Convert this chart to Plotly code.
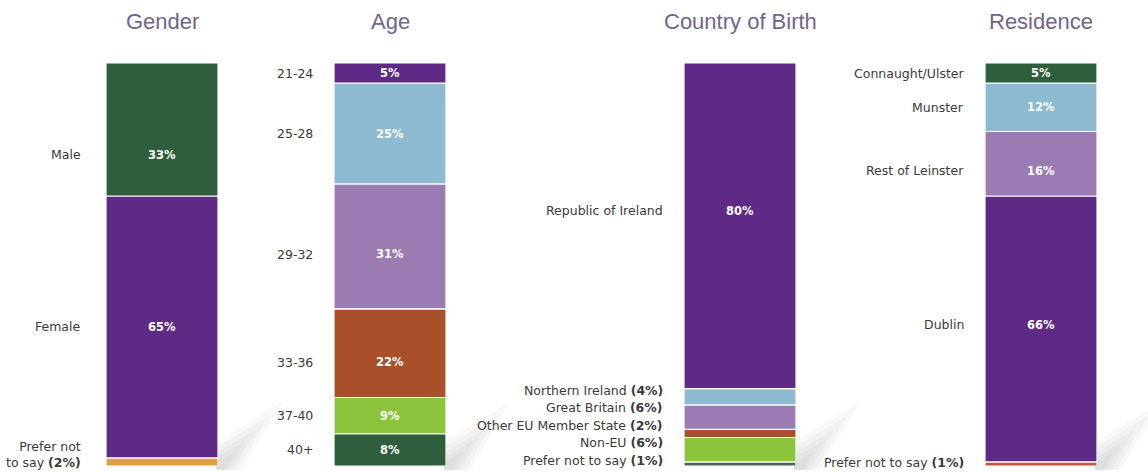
import plotly.graph_objects as go

# ---- data -------------------------------------------------------------
gender_labels = ["Prefer not to say", "Female", "Male"]
gender_values = [2, 65, 33]

age_labels = ["40+", "37-40", "33-36", "29-32", "25-28", "21-24"]
age_values = [8, 9, 22, 31, 25, 5]

birth_labels = ["Prefer not to say", "Non-EU", "Other EU Member State",
                "Great Britain", "Northern Ireland", "Republic of Ireland"]
birth_values = [1, 6, 2, 6, 4, 80]

residence_labels = ["Prefer not to say", "Dublin", "Rest of Leinster",
                    "Munster", "Connaught/Ulster"]
residence_values = [1, 66, 16, 12, 5]

titles = ["Gender", "Age", "Country of Birth", "Residence"]

# ---- styling -----------------------------------------------------------
W, H = 1148, 472
DARK_GREEN = "#2e5e3b"
PURPLE = "#5f2a85"
ORANGE = "#dea145"
LIGHT_BLUE = "#8db9d1"
LAVENDER = "#9a7cb2"
RUST = "#a9502b"
LIME = "#8dc43d"
SLATE = "#4d6461"
RED = "#c2553c"

gender_colors = [ORANGE, PURPLE, DARK_GREEN]
age_colors = [DARK_GREEN, LIME, RUST, LAVENDER, LIGHT_BLUE, PURPLE]
birth_colors = [SLATE, LIME, RUST, LAVENDER, LIGHT_BLUE, PURPLE]
residence_colors = [RED, PURPLE, LAVENDER, LIGHT_BLUE, DARK_GREEN]

LABEL_FONT = dict(family="DejaVu Sans", size=12.5, color="#3a3a3a")
PCT_FONT = dict(family="DejaVu Sans", size=11.5, color="white")
TITLE_FONT = dict(family="Liberation Sans", size=22, color="#72648a")

# pixel placement of each column (left edge of bar, bar width, label gap)
bar_left = [106, 334, 684, 985]
label_gap = [23, 19, 19, 19]
bar_w = 112
plot_top, plot_bottom = 63, 466

# hand-tuned vertical nudges (px, + moves down) for a few labels
label_nudge = {"Male": 25, "29-32": 8, "33-36": 9, "Rest of Leinster": 7,
               "Dublin": -4, "Republic of Ireland": -15}

# minimum share that gets an in-bar percentage
min_pct_shown = [5, 5, 10, 5]

columns = [
    (gender_labels, gender_values, gender_colors),
    (age_labels, age_values, age_colors),
    (birth_labels, birth_values, birth_colors),
    (residence_labels, residence_values, residence_colors),
]

fig = go.Figure()
layout_axes = {}
annotations = []
shapes = []

ydom = [(H - plot_bottom) / H, (H - plot_top) / H]


def px(x, y):
    """pixel position -> paper coordinates string"""
    return f"{x / W},{(H - y) / H}"


for i, (labels, values, colors) in enumerate(columns):
    n = "" if i == 0 else str(i + 1)
    xa, ya = "x" + n, "y" + n
    total = sum(values)
    layout_axes["xaxis" + n] = dict(
        domain=[bar_left[i] / W, (bar_left[i] + bar_w) / W],
        range=[-0.5, 0.5], visible=False, fixedrange=True, anchor=ya)
    layout_axes["yaxis" + n] = dict(
        domain=ydom, range=[0, total], visible=False, fixedrange=True, anchor=xa)

    # soft page-curl shadow rising from the bottom-right corner of each bar
    x1 = bar_left[i] + bar_w
    yb = plot_bottom + 4
    for L in [80, 64, 48, 34, 22]:
        shapes.append(dict(
            type="path", xref="paper", yref="paper", layer="below",
            path=(f"M {px(x1 - 2, yb)} L {px(x1 + 0.3 * L, yb)} "
                  f"L {px(x1 + 0.8 * L, yb - 0.85 * L)} "
                  f"L {px(x1 - 2, yb - 0.35 * L)} Z"),
            fillcolor="#6f6f6f", opacity=0.05, line=dict(width=0)))

    base = 0
    for lab, val, col in zip(labels, values, colors):
        fig.add_trace(go.Bar(
            x=[0], y=[val], base=[base], width=1.0,
            marker=dict(color=col, line=dict(color="white", width=1.2)),
            xaxis=xa, yaxis=ya, showlegend=False, hoverinfo="skip"))
        if val >= min_pct_shown[i]:
            annotations.append(dict(
                x=0, y=base + val / 2, xref=xa, yref=ya,
                text=f"<b>{val}%</b>", yshift=-label_nudge.get(lab, 0),
                showarrow=False, font=PCT_FONT))
        base += val

    # category labels to the left of each bar
    base = 0
    k = 0
    for lab, val in zip(labels, values):
        common = dict(xref=xa, yref=ya, x=-0.5, xanchor="right",
                      xshift=-label_gap[i], showarrow=False, font=LABEL_FONT)
        if i == 2 and val < 10:
            # small segments: stacked list of labels from the bottom up
            annotations.append(dict(
                y=0, yanchor="middle", yshift=6 + 17.5 * k,
                text=f"{lab} <b>({val}%)</b>", **common))
            k += 1
        elif lab == "Prefer not to say":
            txt = (f"Prefer not<br>to say <b>({val}%)</b>" if i == 0
                   else f"Prefer not to say <b>({val}%)</b>")
            annotations.append(dict(
                y=0, yanchor="bottom", align="right", yshift=-6,
                text=txt, **common))
        else:
            annotations.append(dict(
                y=base + val / 2, yshift=-label_nudge.get(lab, 0),
                text=lab, **common))
        base += val

    # column title
    annotations.append(dict(
        x=(bar_left[i] + bar_w / 2) / W, y=(H - 22) / H, xref="paper",
        yref="paper", text=titles[i], showarrow=False, font=TITLE_FONT,
        xanchor="center", yanchor="middle"))

fig.update_layout(
    width=W, height=H, margin=dict(l=0, r=0, t=0, b=0),
    paper_bgcolor="white", plot_bgcolor="rgba(0,0,0,0)",
    barmode="overlay", annotations=annotations, shapes=shapes,
    **layout_axes)

fig.write_html("out.html", config={"displayModeBar": False})
